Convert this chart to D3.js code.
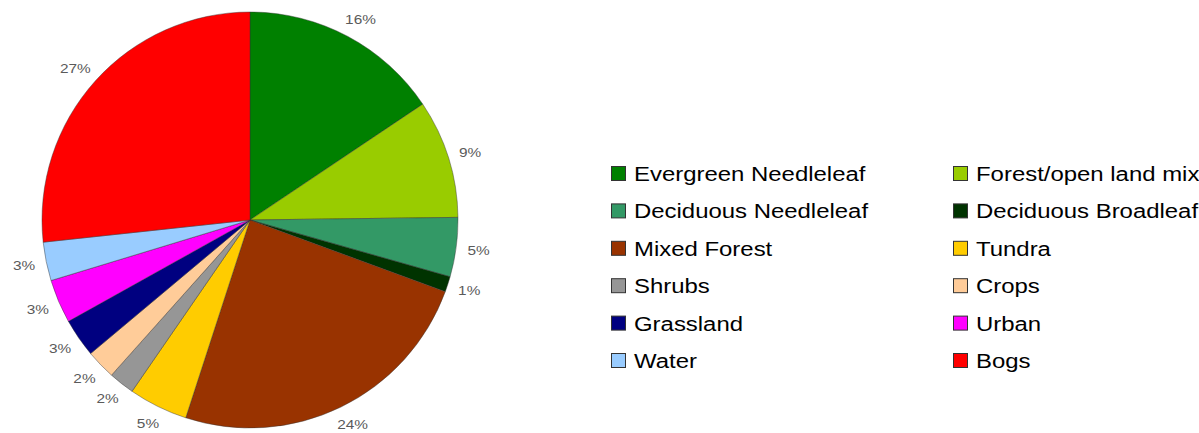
<!DOCTYPE html>
<html>
<head>
<meta charset="utf-8">
<script src="https://cdn.jsdelivr.net/npm/d3@7"></script>
<style>
  html, body { margin: 0; padding: 0; background: #fff; }
  svg { display: block; }
</style>
</head>
<body>
<svg id="chart" width="1199" height="433"></svg>
<script>
// ---- data ----
const categories = [
  "Evergreen Needleleaf", "Forest/open land mix",
  "Deciduous Needleleaf", "Deciduous Broadleaf",
  "Mixed Forest", "Tundra",
  "Shrubs", "Crops",
  "Grassland", "Urban",
  "Water", "Bogs"
];
const values = [15.6, 9.2, 4.6, 1.2, 24.4, 4.6, 2.0, 2.3, 3.0, 3.4, 3.0, 26.7];
const colors = [
  "#008000", "#99cc00",
  "#339966", "#003300",
  "#993300", "#ffcc00",
  "#969696", "#ffcc99",
  "#000080", "#ff00ff",
  "#99ccff", "#ff0000"
];

// ---- layout ----
const svg = d3.select("#chart");
const cx = 250, cy = 220, r = 208, labelR = 222;
const stretch = 1.14;

const pie = d3.pie().sort(null).value(d => d.v).startAngle(0).endAngle(2 * Math.PI);
const arcs = pie(values.map((v, i) => ({ v, i })));
const arc = d3.arc().innerRadius(0).outerRadius(r);

const g = svg.append("g").attr("transform", `translate(${cx},${cy})`);
g.selectAll("path.slice")
  .data(arcs)
  .join("path")
  .attr("class", "slice")
  .attr("d", arc)
  .attr("fill", d => colors[d.data.i])
  .attr("stroke", "#333")
  .attr("stroke-opacity", 0.55)
  .attr("stroke-width", 0.8)
  .attr("stroke-linejoin", "round");

// percentage labels, placed just outside each slice
const fmt = v => Math.round(v) + "%";
const lblFont = 13.5, lblH = 10;
g.selectAll("g.lbl")
  .data(arcs)
  .join("g")
  .attr("class", "lbl")
  .each(function (d) {
    const a = (d.startAngle + d.endAngle) / 2;
    const s = Math.sin(a), c = Math.cos(a);
    const txt = fmt(d.data.v);
    const w = txt.length * 8.5;
    const x = labelR * s + s * w / 2;
    const y = -labelR * c - c * lblH / 2;
    d3.select(this)
      .attr("transform", `translate(${x},${y}) scale(${stretch},1)`)
      .append("text")
      .attr("text-anchor", "middle")
      .attr("dominant-baseline", "central")
      .attr("font-family", "'Liberation Sans', Arial, sans-serif")
      .attr("font-size", lblFont)
      .attr("fill", "#5a5a5a")
      .text(txt);
  });

// legend
const colX = d3.scaleOrdinal().domain([0, 1]).range([611, 953]);
const rowY = d3.scaleLinear().domain([0, 5]).range([166, 353]);
const box = 15;
const leg = svg.append("g").attr("class", "legend");
const items = leg.selectAll("g.item")
  .data(categories.map((name, i) => ({ name, i })))
  .join("g")
  .attr("class", "item")
  .attr("transform", d => `translate(${colX(d.i % 2)},${rowY(Math.floor(d.i / 2))})`);
items.append("rect")
  .attr("x", 0.5).attr("y", 0.5)
  .attr("width", box - 1).attr("height", box - 1)
  .attr("fill", d => colors[d.i])
  .attr("stroke", "#333")
  .attr("stroke-width", 1);
items.append("text")
  .attr("transform", `translate(23,${box}) scale(${stretch},1)`)
  .attr("font-family", "'Liberation Sans', Arial, sans-serif")
  .attr("font-size", 21)
  .attr("fill", "#000")
  .text(d => d.name);
</script>
</body>
</html>
